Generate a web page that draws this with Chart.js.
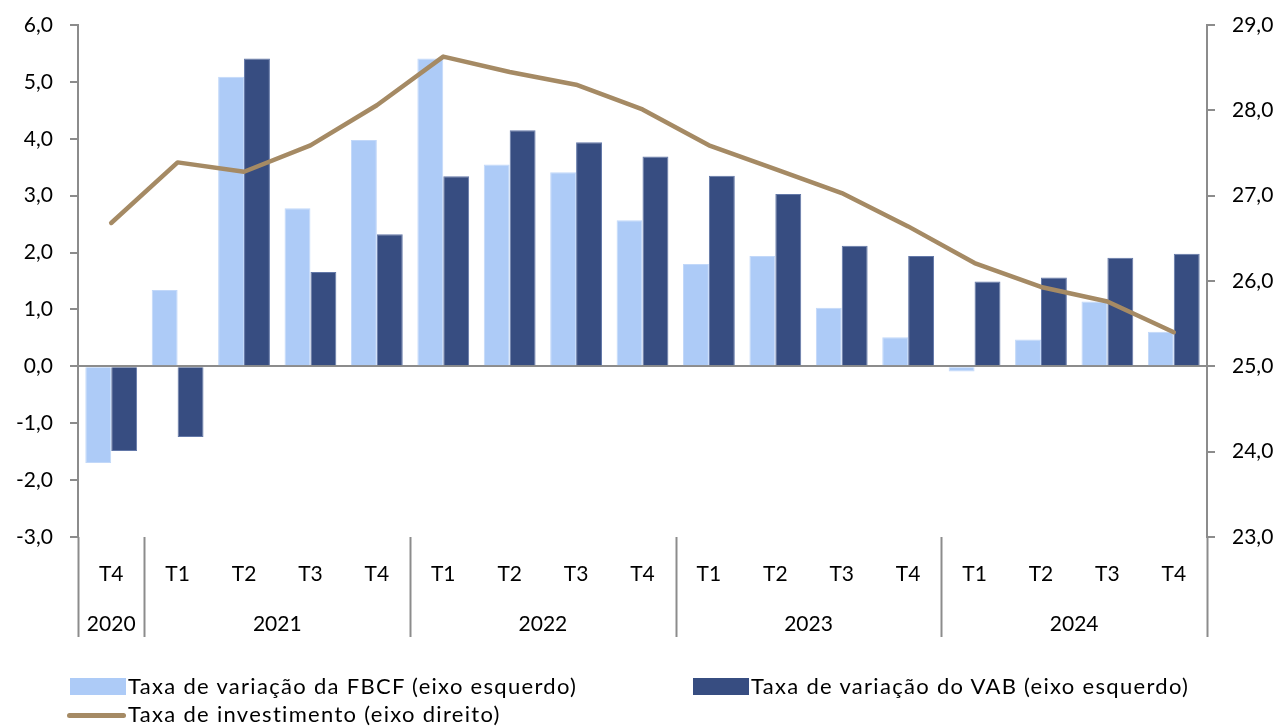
<!DOCTYPE html>
<html>
<head>
<meta charset="utf-8">
<script src="https://cdn.jsdelivr.net/npm/chart.js@4/dist/chart.umd.min.js"></script>
<style>
  html, body { margin: 0; padding: 0; background: #fff; }
  #wrap { position: relative; width: 1280px; height: 727px; font-family: Lato, "Liberation Sans", sans-serif; }
  #c { position: absolute; left: 0; top: 0; }
  .lg { position: absolute; font-size: 22px; letter-spacing: 1.3px; color: #000; line-height: 24px; white-space: nowrap; }
  .sw { position: absolute; }
</style>
</head>
<body>
<div id="wrap">
  <canvas id="c" width="1280" height="727"></canvas>
  <div class="sw" style="left:70px;top:678px;width:56px;height:17px;background:#adcbf7;"></div>
  <div class="lg" style="left:128px;top:674px;">Taxa de variação da FBCF (eixo esquerdo)</div>
  <div class="sw" style="left:693px;top:678px;width:56px;height:17px;background:#374d81;"></div>
  <div class="lg" style="left:751px;top:674px;">Taxa de variação do VAB (eixo esquerdo)</div>
  <div class="sw" style="left:67px;top:713px;width:59px;height:5px;border-radius:3px;background:#a58a64;"></div>
  <div class="lg" style="left:128px;top:702px;">Taxa de investimento (eixo direito)</div>
</div>
<script>
const quarters = ['T4','T1','T2','T3','T4','T1','T2','T3','T4','T1','T2','T3','T4','T1','T2','T3','T4'];
const years    = ['2020','2021','2021','2021','2021','2022','2022','2022','2022','2023','2023','2023','2023','2024','2024','2024','2024'];
const fbcf     = [-1.70, 1.34, 5.09, 2.78, 3.98, 5.41, 3.55, 3.41, 2.57, 1.80, 1.94, 1.03, 0.51, -0.09, 0.47, 1.14, 0.61];
const vab      = [-1.49, -1.24, 5.41, 1.66, 2.32, 3.34, 4.15, 3.94, 3.69, 3.35, 3.03, 2.12, 1.94, 1.49, 1.56, 1.91, 1.98];
const investimento = [26.68, 27.39, 27.28, 27.59, 28.06, 28.63, 28.45, 28.30, 28.01, 27.59, 27.31, 27.03, 26.64, 26.21, 25.93, 25.76, 25.40];
const leftTicks  = [-3, -2, -1, 0, 1, 2, 3, 4, 5, 6];
const rightTicks = [23, 24, 25, 26, 27, 28, 29];

const FONT = 'Lato, "Liberation Sans", sans-serif';
const AXIS = '#8c8c8c';
const fmt = v => Number(v).toFixed(1).replace('.', ',');

const yearAxisPlugin = {
  id: 'yearAxis',
  afterDraw(chart) {
    const x = chart.scales.x;
    const ctx = chart.ctx;
    const n = quarters.length;
    const w = (x.right - x.left) / n;
    const top = chart.chartArea.bottom;
    const bottom = top + 100;
    ctx.save();
    ctx.strokeStyle = AXIS;
    ctx.lineWidth = 2;
    const bounds = [0];
    for (let i = 1; i < n; i++) if (years[i] !== years[i - 1]) bounds.push(i);
    bounds.push(n);
    bounds.forEach(b => {
      const px = Math.round(x.left + b * w) + 0.5;
      ctx.beginPath();
      ctx.moveTo(px, top);
      ctx.lineTo(px, bottom);
      ctx.stroke();
    });
    ctx.fillStyle = '#000';
    ctx.font = '21px ' + FONT;
    ctx.textAlign = 'center';
    ctx.textBaseline = 'middle';
    for (let k = 0; k < bounds.length - 1; k++) {
      const a = bounds[k], b = bounds[k + 1];
      const cx = x.left + (a + b) / 2 * w;
      ctx.fillText(years[a], cx, top + 87);
    }
    ctx.restore();
  }
};

new Chart(document.getElementById('c'), {
  data: {
    labels: quarters,
    datasets: [
      { type: 'line', label: 'Taxa de investimento (eixo direito)', data: investimento, yAxisID: 'y1',
        borderColor: '#a58a64', borderWidth: 4.5, pointRadius: 0, tension: 0, borderCapStyle: 'round', borderJoinStyle: 'round', order: 0 },
      { type: 'bar', label: 'Taxa de variação da FBCF (eixo esquerdo)', data: fbcf, yAxisID: 'y',
        backgroundColor: '#adcbf7', borderColor: '#c2d8f9', borderWidth: 1, barPercentage: 1, categoryPercentage: 0.78, order: 1 },
      { type: 'bar', label: 'Taxa de variação do VAB (eixo esquerdo)', data: vab, yAxisID: 'y',
        backgroundColor: '#374d81', borderColor: '#6378a8', borderWidth: 1, barPercentage: 1, categoryPercentage: 0.78, order: 1 }
    ]
  },
  options: {
    responsive: false,
    animation: false,
    layout: { padding: { top: 25, left: 0, right: 0, bottom: 0 } },
    plugins: { legend: { display: false }, tooltip: { enabled: false } },
    scales: {
      x: {
        grid: { display: false, drawTicks: false },
        border: { display: false },
        ticks: { color: '#000', font: { family: FONT, size: 21 }, padding: 25, maxRotation: 0, autoSkip: false },
        afterFit(s) { s.height = 190; }
      },
      y: {
        position: 'left', min: -3, max: 6,
        afterBuildTicks(s) { s.ticks = leftTicks.map(v => ({ value: v })); },
        grid: {
          color: c => (c.tick && c.tick.value === 0) ? AXIS : 'rgba(0,0,0,0)',
          lineWidth: 2, tickColor: AXIS, tickLength: 8, drawOnChartArea: true
        },
        border: { display: true, color: AXIS, width: 2 },
        ticks: { color: '#000', font: { family: FONT, size: 21 }, padding: 17, callback: v => fmt(v) },
        afterFit(s) { s.width = 78; s.paddingTop = 0; s.paddingBottom = 0; }
      },
      y1: {
        position: 'right', min: 23, max: 29,
        afterBuildTicks(s) { s.ticks = rightTicks.map(v => ({ value: v })); },
        grid: { drawOnChartArea: false, tickColor: AXIS, tickLength: 8, lineWidth: 2 },
        border: { display: true, color: AXIS, width: 2 },
        ticks: { color: '#000', font: { family: FONT, size: 21 }, padding: 17, callback: v => fmt(v) },
        afterFit(s) { s.width = 73; s.paddingTop = 0; s.paddingBottom = 0; }
      }
    }
  },
  plugins: [yearAxisPlugin]
});
</script>
</body>
</html>
